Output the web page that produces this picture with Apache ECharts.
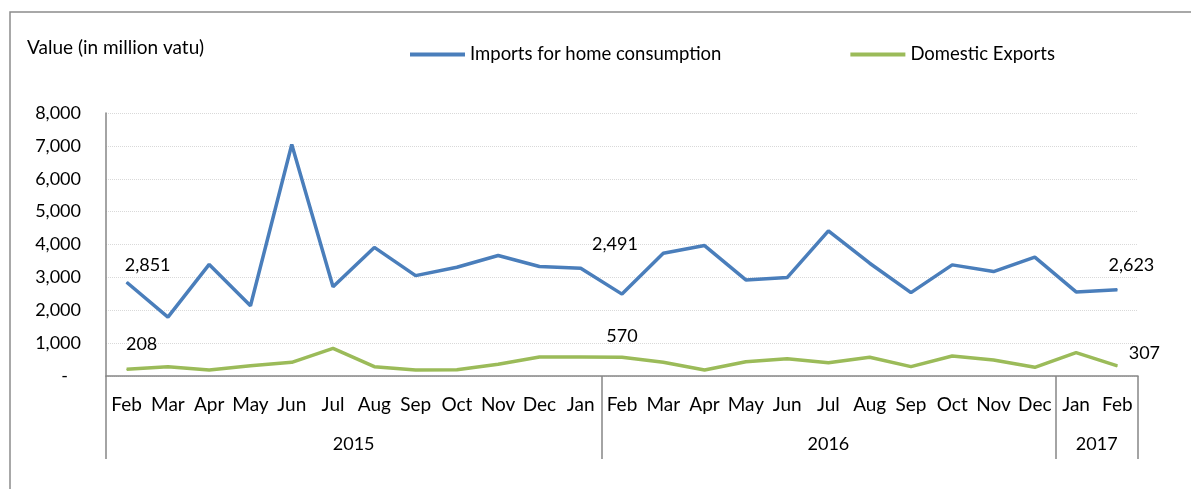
<!DOCTYPE html>
<html>
<head>
<meta charset="utf-8">
<style>
    html, body { margin: 0; padding: 0; background: #fff; }
    #chart { width: 1191px; height: 489px; }
</style>
<script src="https://cdn.jsdelivr.net/npm/echarts@6/dist/echarts.min.js"></script>
</head>
<body>
<div id="chart"></div>
<script>
    // months Feb 2015 .. Feb 2017
    var months = ['Feb', 'Mar', 'Apr', 'May', 'Jun', 'Jul', 'Aug', 'Sep', 'Oct', 'Nov', 'Dec', 'Jan',
        'Feb', 'Mar', 'Apr', 'May', 'Jun', 'Jul', 'Aug', 'Sep', 'Oct', 'Nov', 'Dec',
        'Jan', 'Feb'];
    var years = ['2015', '2016', '2017'];
    var yearSpans = [12, 11, 2];

    var imports = [2851, 1790, 3395, 2137, 7043, 2714, 3912, 3054, 3309, 3664, 3329, 3278,
        2491, 3735, 3968, 2923, 2994, 4415, 3431, 2537, 3380, 3177, 3614,
        2558, 2623];
    var exports = [208, 283, 182, 314, 416, 842, 283, 183, 190, 355, 579, 579,
        570, 416, 183, 436, 528, 406, 568, 284, 609, 487, 264,
        710, 307];

    var yTicks = [0, 1000, 2000, 3000, 4000, 5000, 6000, 7000, 8000];

    // which points carry a value label, and how far the label is nudged
    var importLabelOffsets = {0: [21, -3], 12: [-7, -35], 24: [14, -10]};
    var exportLabelOffsets = {0: [15, -10], 12: [0, -7], 24: [27, 2]};

    var FONT = 'Lato, "Open Sans", sans-serif';

    function fmt(v) {
        return v.toString().replace(/\B(?=(\d{3})+(?!\d))/g, ',');
    }

    function withLabels(values, offsets) {
        return values.map(function (v, i) {
            if (offsets[i]) {
                return {
                    value: v,
                    label: {
                        show: true,
                        position: 'top',
                        offset: offsets[i],
                        formatter: function (p) { return fmt(p.value); },
                        color: '#000',
                        fontSize: 18,
                        fontFamily: FONT
                    }
                };
            }
            return v;
        });
    }

    // boundaries and centres of the year groups
    var bounds = [0];
    var centers = [];
    yearSpans.forEach(function (s) {
        var start = bounds[bounds.length - 1];
        centers.push(start + s / 2);
        bounds.push(start + s);
    });

    var chart = echarts.init(document.getElementById('chart'));
    var option = {
        animation: false,
        backgroundColor: '#fff',
        textStyle: {fontFamily: FONT},
        graphic: [{
            type: 'rect',
            shape: {x: 10, y: 12, width: 1400, height: 700},
            style: {fill: 'none', stroke: '#8c8c8c', lineWidth: 1.5},
            silent: true
        }],
        title: {
            text: 'Value (in million vatu)',
            left: 22,
            top: 33,
            textStyle: {fontSize: 19, fontWeight: 'normal', color: '#000', fontFamily: FONT}
        },
        legend: {
            left: 405,
            top: 40,
            itemWidth: 55,
            itemHeight: 4,
            itemGap: 129,
            icon: 'rect',
            textStyle: {fontSize: 18.5, color: '#000', fontFamily: FONT},
            data: ['Imports for home consumption', 'Domestic Exports']
        },
        grid: {left: 106, right: 53, top: 113, bottom: 113},
        xAxis: [
            {
                type: 'category',
                data: months,
                boundaryGap: true,
                axisLine: {show: true, lineStyle: {color: '#868686', width: 1.5}},
                axisTick: {show: false},
                axisLabel: {margin: 19, fontSize: 19, color: '#000', fontFamily: FONT, interval: 0}
            },
            {
                type: 'value',
                position: 'bottom',
                min: 0,
                max: months.length,
                axisLine: {show: false},
                splitLine: {show: false},
                axisTick: {
                    show: true,
                    length: 83,
                    customValues: bounds,
                    lineStyle: {color: '#868686', width: 1.5}
                },
                axisLabel: {
                    show: true,
                    margin: 59,
                    customValues: centers,
                    fontSize: 18,
                    color: '#000',
                    fontFamily: FONT,
                    formatter: function (v) {
                        var idx = centers.indexOf(v);
                        return idx >= 0 ? years[idx] : '';
                    }
                }
            }
        ],
        yAxis: {
            type: 'value',
            min: yTicks[0],
            max: yTicks[yTicks.length - 1],
            interval: 1000,
            axisLine: {show: true, lineStyle: {color: '#868686', width: 1.5}},
            axisTick: {show: false},
            splitLine: {show: true, lineStyle: {color: '#d9d9d9', type: 'dotted'}},
            axisLabel: {
                margin: 25,
                fontSize: 18,
                color: '#000',
                fontFamily: FONT,
                formatter: function (v) {
                    return v === 0 ? '{d|-}' : fmt(v);
                },
                rich: {d: {padding: [0, 13, 0, 0], fontSize: 18, fontFamily: FONT, color: '#000'}}
            }
        },
        series: [
            {
                name: 'Imports for home consumption',
                type: 'line',
                data: withLabels(imports, importLabelOffsets),
                symbol: 'circle',
                symbolSize: 1,
                color: '#4a7ebb',
                lineStyle: {width: 3.5, color: '#4a7ebb'}
            },
            {
                name: 'Domestic Exports',
                type: 'line',
                data: withLabels(exports, exportLabelOffsets),
                symbol: 'circle',
                symbolSize: 1,
                color: '#9bbb59',
                lineStyle: {width: 3.5, color: '#9bbb59'}
            }
        ]
    };
    chart.setOption(option);
</script>
</body>
</html>
